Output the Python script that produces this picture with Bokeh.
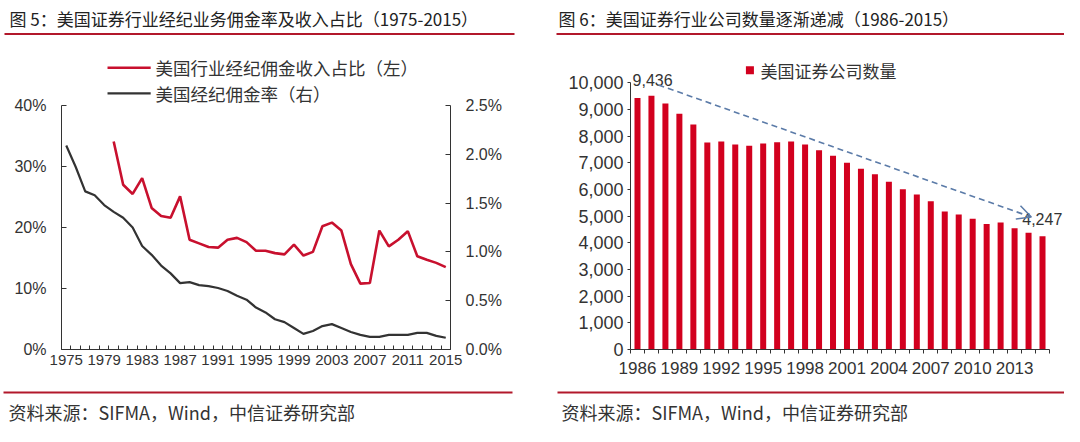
from bokeh.plotting import figure
from bokeh.models import (Range1d, LinearAxis, FixedTicker, PrintfTickFormatter,
                          NumeralTickFormatter, Arrow, OpenHead)
from bokeh.layouts import column, row
from bokeh.core.properties import value
from bokeh.embed import file_html
from bokeh.resources import INLINE

# ---------------- data ----------------
years_left = list(range(1975, 2016))
commission_rate = [2.09, 1.87, 1.62, 1.58, 1.48, 1.41, 1.35, 1.25, 1.06, 0.97,
                   0.86, 0.78, 0.68, 0.69, 0.66, 0.65, 0.63, 0.60, 0.55, 0.51,
                   0.43, 0.38, 0.31, 0.28, 0.22, 0.16, 0.19, 0.24, 0.26, 0.22,
                   0.18, 0.15, 0.13, 0.13, 0.15, 0.15, 0.15, 0.17, 0.17, 0.14,
                   0.12]
share_years = list(range(1980, 2016))
revenue_share = [34.1, 27.0, 25.5, 28.1, 23.2, 21.9, 21.6, 25.1, 18.0, 17.4,
                 16.8, 16.7, 18.0, 18.3, 17.6, 16.2, 16.2, 15.8, 15.6, 17.2,
                 15.4, 16.0, 20.2, 20.8, 19.5, 14.0, 10.8, 10.9, 19.5, 16.9,
                 18.0, 19.4, 15.3, 14.7, 14.2, 13.5]
left_year_ticks = list(range(1975, 2016, 4))
left_pct_ticks = [0, 10, 20, 30, 40]
right_pct_ticks = [0.0, 0.5, 1.0, 1.5, 2.0, 2.5]

years_right = list(range(1986, 2016))
firm_counts = [9436, 9515, 9227, 8847, 8442, 7767, 7804, 7693, 7644, 7730,
               7779, 7804, 7693, 7472, 7264, 7006, 6785, 6577, 6294, 6012,
               5816, 5558, 5178, 5067, 4908, 4712, 4761, 4552, 4380, 4247]
right_year_ticks = list(range(1986, 2014, 3))
count_ticks = list(range(0, 10001, 1000))

title_left = "图 5：美国证券行业经纪业务佣金率及收入占比（1975-2015）"
title_right = "图 6：美国证券行业公司数量逐渐递减（1986-2015）"
legend_share = "美国行业经纪佣金收入占比（左）"
legend_rate = "美国经纪佣金率（右）"
legend_count = "美国证券公司数量"
source_text = "资料来源：SIFMA，Wind，中信证券研究部"

# ---------------- styles ----------------
CJK = value("Noto Sans CJK SC")
NUM = "Liberation Sans"
RED_LINE = "#C8102E"
RED_BAR = "#D2001E"
DARK = "#333333"
RULE = "#B2182B"

W_ALL = 1064
HEADER_H = 40
CHART_H = 345
FOOTER_H = 41
LEFT_W = 540
RIGHT_W = W_ALL - LEFT_W


def blank(width, height):
    f = figure(width=width, height=height, x_range=Range1d(0, width),
               y_range=Range1d(height, 0), x_axis_type=None, y_axis_type=None,
               toolbar_location=None, output_backend="svg", min_border=0)
    f.outline_line_color = None
    f.xgrid.visible = False
    f.ygrid.visible = False
    return f


# ---------------- header ----------------
header = blank(W_ALL, HEADER_H)
header.text(x=[9, 558], y=[18, 18], text=[title_left, title_right],
            text_font=CJK, text_font_size="17px", text_color="#222222",
            text_baseline="middle", text_align="left")
header.segment(x0=[4, 556], y0=[33.5, 33.5], x1=[514, 1064], y1=[33.5, 33.5],
               line_color=RULE, line_width=2)

# ---------------- footer ----------------
footer = blank(W_ALL, FOOTER_H)
footer.segment(x0=[3, 557], y0=[7, 7], x1=[512, 1064], y1=[7, 7],
               line_color=RULE, line_width=2)
footer.text(x=[8, 561], y=[26, 26], text=[source_text, source_text],
            text_font=CJK, text_font_size="18px", text_color=DARK,
            text_baseline="middle", text_align="left")

# ---------------- left chart ----------------
# frame: left axis at x 61, right axis at 450; 40% at local y 65, 0 at 309; top at 15
left_top = 40 * (309 - 15) / (309 - 65)
right_top = 2.5 * (309 - 15) / (309 - 65)
p1 = figure(width=LEFT_W, height=CHART_H, x_range=Range1d(1974.5, 2015.5),
            y_range=Range1d(0, left_top), toolbar_location=None,
            output_backend="svg", min_border_left=61, min_border_right=90,
            min_border_top=15, min_border_bottom=36)
p1.outline_line_color = None
p1.xgrid.visible = False
p1.ygrid.visible = False
p1.extra_y_ranges = {"rate": Range1d(0, right_top)}

p1.line(share_years, revenue_share, line_color=RED_LINE, line_width=2.6)
p1.line(years_left, commission_rate, y_range_name="rate", line_color=DARK,
        line_width=2.2)

xa = p1.xaxis[0]
xa.ticker = FixedTicker(ticks=left_year_ticks,
                        minor_ticks=[y - 0.5 for y in years_left] + [years_left[-1] + 0.5])
xa.major_tick_in = 0
xa.major_tick_out = 0
xa.minor_tick_in = 4
xa.minor_tick_out = 0
xa.major_label_standoff = 5
xa.major_label_text_font = NUM
xa.major_label_text_font_size = "15px"
xa.major_label_text_color = DARK
xa.axis_line_color = DARK
xa.minor_tick_line_color = DARK

ya = p1.yaxis[0]
ya.ticker = FixedTicker(ticks=left_pct_ticks)
ya.formatter = PrintfTickFormatter(format="%d%%")
ya.bounds = (0, 40)
ya.major_tick_in = 5
ya.major_tick_out = 0
ya.minor_tick_line_color = None
ya.major_label_standoff = 15
ya.major_label_text_font = NUM
ya.major_label_text_font_size = "16px"
ya.major_label_text_color = DARK
ya.axis_line_color = DARK
ya.major_tick_line_color = DARK

ra = LinearAxis(y_range_name="rate", ticker=FixedTicker(ticks=right_pct_ticks),
                formatter=PrintfTickFormatter(format="%.1f%%"), bounds=(0, 2.5))
ra.major_tick_in = 5
ra.major_tick_out = 0
ra.minor_tick_line_color = None
ra.major_label_standoff = 15
ra.major_label_text_font = NUM
ra.major_label_text_font_size = "16px"
ra.major_label_text_color = DARK
ra.axis_line_color = DARK
ra.major_tick_line_color = DARK
p1.add_layout(ra, "right")

# legend (manual, top of frame)
lx0, lx1, ltx = 1979.35, 1983.9, 1984.4
ly = [46.2, 42.0]
p1.segment(x0=[lx0, lx0], y0=ly, x1=[lx1, lx1], y1=ly,
           line_color=[RED_LINE, DARK], line_width=[2.6, 2.2])
p1.text(x=[ltx, ltx], y=ly, text=[legend_share, legend_rate], text_font=CJK,
        text_font_size="17.5px", text_color=DARK, text_baseline="middle",
        text_align="left")

# ---------------- right chart ----------------
# frame: axis at local x 90, axis end at 509 (13.97 px / year); 10000 at y 43, 0 at 315
px_per_year = (509 - 90) / 30
x_end = 2015.5 + (RIGHT_W - 509) / px_per_year
count_top = 10000 * (315 - 15) / (315 - 43)
p2 = figure(width=RIGHT_W, height=CHART_H, x_range=Range1d(1985.5, x_end),
            y_range=Range1d(0, count_top), toolbar_location=None,
            output_backend="svg", min_border_left=90, min_border_right=0,
            min_border_top=15, min_border_bottom=30)
p2.outline_line_color = None
p2.xgrid.visible = False
p2.ygrid.visible = False

p2.vbar(x=years_right, top=firm_counts, width=0.43, fill_color=RED_BAR,
        line_color=None)

xb = p2.xaxis[0]
xb.ticker = FixedTicker(ticks=right_year_ticks,
                        minor_ticks=[y - 0.5 for y in years_right] + [years_right[-1] + 0.5])
xb.bounds = (1985.5, 2015.5)
xb.major_tick_in = 0
xb.major_tick_out = 0
xb.minor_tick_in = 0
xb.minor_tick_out = 4
xb.major_label_standoff = 8
xb.major_label_text_font = NUM
xb.major_label_text_font_size = "17px"
xb.major_label_text_color = DARK
xb.axis_line_color = DARK
xb.minor_tick_line_color = DARK

yb = p2.yaxis[0]
yb.ticker = FixedTicker(ticks=count_ticks)
yb.formatter = NumeralTickFormatter(format="0,0")
yb.bounds = (0, 10000)
yb.major_tick_in = 0
yb.major_tick_out = 3
yb.minor_tick_line_color = None
yb.major_label_standoff = 4
yb.major_label_text_font = NUM
yb.major_label_text_font_size = "18px"
yb.major_label_text_color = DARK
yb.axis_line_color = DARK
yb.major_tick_line_color = DARK

# trend arrow and end labels
arrow_color = "#5B7BA8"
p2.add_layout(Arrow(end=OpenHead(size=14, line_color=arrow_color, line_width=1.5),
                    x_start=years_right[1] + 0.5, y_start=firm_counts[0] + 490,
                    x_end=years_right[-2] + 0.2, y_end=firm_counts[-1] + 720,
                    line_color=arrow_color, line_width=1.6, line_dash="6 4"))
p2.text(x=[years_right[0] - 0.35, years_right[-1] - 1.45],
        y=[firm_counts[0] + 670, firm_counts[-1] + 640],
        text=[f"{firm_counts[0]:,}", f"{firm_counts[-1]:,}"],
        text_font=value(NUM), text_font_size="16px", text_color=DARK,
        text_baseline="middle", text_align="left")

# legend (manual)
p2.scatter(x=[1994.05], y=[10478], marker="square", size=8, fill_color=RED_BAR,
           line_color=None)
p2.text(x=[1994.8], y=[10478], text=[legend_count], text_font=CJK,
        text_font_size="17px", text_color=DARK, text_baseline="middle",
        text_align="left")

layout = column(header, row(p1, p2), footer)
open("out.html", "w").write(file_html(layout, INLINE))
